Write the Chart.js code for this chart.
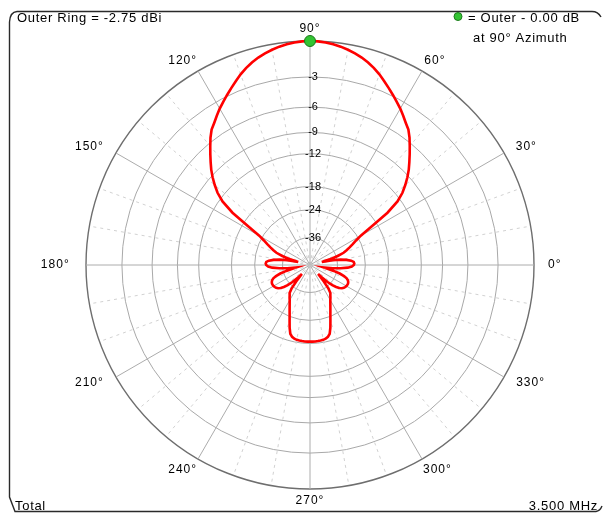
<!DOCTYPE html>
<html>
<head>
<meta charset="utf-8">
<script src="https://cdn.jsdelivr.net/npm/chart.js@4/dist/chart.umd.min.js"></script>
<style>
  html, body { margin: 0; padding: 0; background: #ffffff; overflow: hidden; }
  canvas { display: block; }
</style>
</head>
<body>
<canvas id="pattern" width="604" height="515"></canvas>
<script>
// Azimuth pattern, total field, 3.500 MHz.
// Gain relative to the outer ring, sampled every 2 degrees of azimuth (0 = east, counter-clockwise).
const azimuthDeg = Array.from({ length: 180 }, (_, i) => i * 2);
const gainDb = [
  -28.0, -27.8, -28.0, -29.0, -31.0, -34.0, -39.0, -50.0, -41.0, -35.0,   //   0 ..  18
  -31.5, -29.8, -28.2, -26.6, -25.0, -23.0, -19.5, -15.0, -12.5, -11.1,   //  20 ..  38
  -10.1,  -9.2,  -8.4,  -7.7,  -7.0,  -6.3,  -5.6,  -5.0,  -4.6, -4.15,   //  40 ..  58
   -3.7,  -3.3,  -2.9,  -2.5,  -2.1,  -1.7, -1.35, -1.05,  -0.8,  -0.6,   //  60 ..  78
  -0.42, -0.27, -0.15, -0.07, -0.02,   0.0, -0.02, -0.07, -0.15, -0.27,   //  80 ..  98
  -0.42,  -0.6,  -0.8, -1.05, -1.35,  -1.7,  -2.1,  -2.5,  -2.9,  -3.3,   // 100 .. 118
   -3.7, -4.15,  -4.6,  -5.0,  -5.6,  -6.3,  -7.0,  -7.7,  -8.4,  -9.2,   // 120 .. 138
  -10.1, -11.1, -12.5, -15.0, -19.5, -23.0, -25.0, -26.6, -28.2, -29.8,   // 140 .. 158
  -31.5, -35.0, -41.0, -50.0, -39.0, -34.0, -31.0, -29.0, -28.0, -27.8,   // 160 .. 178
  -28.0, -28.8, -30.5, -34.0, -39.0, -48.0, -44.0, -38.0, -34.0, -31.5,   // 180 .. 198
  -30.0, -29.2, -28.8, -28.6, -28.6, -28.7, -28.9, -29.2, -29.8, -30.8,   // 200 .. 218
  -32.3, -34.5, -38.0, -44.0, -50.0, -40.0, -34.5, -32.0, -31.2, -30.2,   // 220 .. 238
  -29.3, -28.2, -27.0, -25.7, -24.3, -22.7, -21.0, -19.6, -19.0, -18.7,   // 240 .. 258
 -18.55, -18.5,-18.45, -18.4, -18.4, -18.4, -18.4, -18.4,-18.45, -18.5,   // 260 .. 278
 -18.55, -18.7, -19.0, -19.6, -21.0, -22.7, -24.3, -25.7, -27.0, -28.2,   // 280 .. 298
  -29.3, -30.2, -31.2, -32.0, -34.5, -40.0, -50.0, -44.0, -38.0, -34.5,   // 300 .. 318
  -32.3, -30.8, -29.8, -29.2, -28.9, -28.7, -28.6, -28.6, -28.8, -29.2,   // 320 .. 338
  -30.0, -31.5, -34.0, -38.0, -44.0, -48.0, -39.0, -34.0, -30.5, -28.8    // 340 .. 358
];

// Grid rings (dB below the outer ring) and labelled spokes
const ringDb = [-36, -24, -18, -12, -9, -6, -3, 0];
const spokeLabelDeg = [0, 30, 60, 90, 120, 150, 180, 210, 240, 270, 300, 330];

// Marked maximum
const peakAzimuthDeg = 90;
const peakDb = 0.00;
const outerRingDbi = -2.75;
const frequencyText = '3.500 MHz';

// ARRL log scale: every 2 dB shrinks the radius by a factor 0.89
const ARRL_STEP = 0.89;

class ArrlLogScale extends Chart.RadialLinearScale {
  getDistanceFromCenterForValue(value) {
    if (value === null || value === undefined || isNaN(value)) return NaN;
    return this.drawingArea * Math.pow(ARRL_STEP, -value / 2);
  }
}
ArrlLogScale.id = 'arrlLog';
ArrlLogScale.defaults = Chart.RadialLinearScale.defaults;
Chart.register(ArrlLogScale);

// Chart.js radar runs clockwise from the top, so spoke k sits at azimuth 90 - 2k
const radarLabels = Array.from({ length: azimuthDeg.length }, (_, k) => (90 - 2 * k + 360) % 360);
const patternData = radarLabels.map(az => gainDb[azimuthDeg.indexOf(az)]);
const peakData = radarLabels.map(az => (az === peakAzimuthDeg ? peakDb : null));

const TEXT_FONT = '13px "Liberation Sans", Arial, sans-serif';

// Bracket-shaped frame around the plot
const framePlugin = {
  id: 'frame',
  beforeDraw(chart) {
    const ctx = chart.ctx;
    ctx.save();
    ctx.fillStyle = '#ffffff';
    ctx.fillRect(0, 0, chart.width, chart.height);
    ctx.strokeStyle = '#2a2a2a';
    ctx.lineWidth = 1.4;
    ctx.beginPath();
    ctx.moveTo(601, 17);
    ctx.quadraticCurveTo(598, 11.5, 592, 11.5);
    ctx.lineTo(17, 11.5);
    ctx.quadraticCurveTo(10, 12, 9.5, 22);
    ctx.lineTo(9.5, 497);
    ctx.lineTo(15, 511.5);
    ctx.lineTo(596, 511.5);
    ctx.quadraticCurveTo(600, 511, 602, 506);
    ctx.stroke();
    ctx.restore();
  }
};

// Spoke labels and the text around the plot
const annotationPlugin = {
  id: 'annotations',
  afterDraw(chart) {
    const ctx = chart.ctx;
    const scale = chart.scales.r;
    ctx.save();

    ctx.font = '12px "Liberation Sans", Arial, sans-serif';
    ctx.letterSpacing = '1px';
    ctx.fillStyle = '#000000';
    ctx.textAlign = 'center';
    ctx.textBaseline = 'middle';
    spokeLabelDeg.forEach(az => {
      const idx = radarLabels.indexOf(az);
      const p = scale.getPointPosition(idx, scale.drawingArea + 12);
      const text = az + '°';
      const w = ctx.measureText(text).width;
      const c = Math.cos(az * Math.PI / 180);
      ctx.fillText(text, p.x + c * w * 0.65, p.y);
    });

    ctx.font = TEXT_FONT;
    ctx.letterSpacing = '0.7px';
    ctx.textBaseline = 'alphabetic';
    ctx.textAlign = 'left';
    ctx.fillText('Outer Ring = ' + outerRingDbi.toFixed(2) + ' dBi', 17, 22);
    ctx.fillText('= Outer - ' + peakDb.toFixed(2) + ' dB', 468, 22);
    ctx.fillText('at ' + peakAzimuthDeg + '° Azimuth', 473, 42);
    ctx.fillText('Total', 15, 510);
    ctx.textAlign = 'right';
    ctx.fillText(frequencyText, 598, 510);

    ctx.beginPath();
    ctx.arc(458, 16.5, 4, 0, Math.PI * 2);
    ctx.fillStyle = '#33c433';
    ctx.fill();
    ctx.strokeStyle = '#1c7a1c';
    ctx.lineWidth = 1;
    ctx.stroke();
    ctx.restore();
  }
};

new Chart(document.getElementById('pattern'), {
  type: 'radar',
  data: {
    labels: radarLabels,
    datasets: [
      {
        label: 'Maximum',
        data: peakData,
        showLine: false,
        pointRadius: 5.5,
        pointBackgroundColor: '#33c433',
        pointBorderColor: '#1c7a1c',
        pointBorderWidth: 1,
        order: 0
      },
      {
        label: 'Total',
        data: patternData,
        borderColor: '#ff0000',
        borderWidth: 2.6,
        fill: false,
        tension: 0,
        pointRadius: 0,
        order: 1
      }
    ]
  },
  options: {
    responsive: false,
    animation: false,
    devicePixelRatio: 1,
    layout: { padding: { top: 34, bottom: 18, left: 16, right: 0 } },
    plugins: {
      legend: { display: false },
      tooltip: { enabled: false }
    },
    scales: {
      r: {
        type: 'arrlLog',
        min: -60,
        max: 0,
        afterBuildTicks(scale) {
          scale.ticks = [{ value: -200 }].concat(ringDb.map(v => ({ value: v })));
        },
        ticks: {
          display: true,
          showLabelBackdrop: false,
          color: '#000000',
          font: { size: 11, family: '"Liberation Sans", Arial, sans-serif' },
          callback: v => (v === 0 || v < -100 ? '' : '  ' + v)
        },
        grid: {
          circular: true,
          color: ctx => {
            const v = ctx.tick ? ctx.tick.value : null;
            if (v === null || v < -100) return 'rgba(0,0,0,0)';
            return v === 0 ? '#6e6e6e' : '#a9a9a9';
          },
          lineWidth: ctx => (ctx.tick && ctx.tick.value === 0 ? 1.4 : 1)
        },
        angleLines: {
          display: true,
          color: ctx => {
            const az = radarLabels[ctx.index];
            return az % 30 === 0 ? '#acacac' : '#d2d2d2';
          },
          lineWidth: ctx => (radarLabels[ctx.index] % 10 === 0 ? 1 : 0),
          borderDash: ctx => (radarLabels[ctx.index] % 30 === 0 ? [] : [3, 4])
        },
        pointLabels: { display: false }
      }
    }
  },
  plugins: [framePlugin, annotationPlugin]
});
</script>
</body>
</html>
